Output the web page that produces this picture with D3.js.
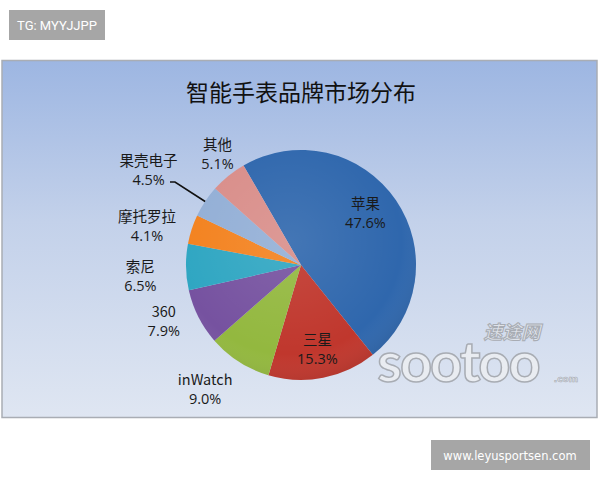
<!DOCTYPE html>
<html><head><meta charset="utf-8">
<script src="https://cdn.jsdelivr.net/npm/d3@7"></script>
<style>html,body{margin:0;padding:0;background:#fff;}svg{display:block;}</style>
</head><body>
<svg id="c" width="600" height="480"></svg>
<script>
const categories = ["苹果","三星","inWatch","360","索尼","摩托罗拉","果壳电子","其他"];
const values = [47.6,15.3,9.0,7.9,6.5,4.1,4.5,5.1];
const valueLabels = ["47.6%","15.3%","9.0%","7.9%","6.5%","4.1%","4.5%","5.1%"];
const colors = ["#2f67ad","#c0372d","#93b83f","#7652a0","#2fa6c2","#f3821f","#93afd6","#d98e8a"];
// label placement (layout, as fraction of radius)
const labelRadius = [0.72,0.74,1.36,1.29,1.40,1.38,1.56,1.21];
const labelAngleShift = [-0.08,0,0.09,0.08,-0.05,-0.07,-0.03,0.04];

const svg = d3.select("#c");
const defs = svg.append("defs");
const bg = defs.append("linearGradient").attr("id","bg").attr("x1",0).attr("y1",0).attr("x2",0).attr("y2",1);
bg.append("stop").attr("offset","0%").attr("stop-color","#9db6e2");
bg.append("stop").attr("offset","45%").attr("stop-color","#c3d1ea");
bg.append("stop").attr("offset","100%").attr("stop-color","#dfe6f2");
const shade = defs.append("radialGradient").attr("id","shade").attr("cx","45%").attr("cy","40%").attr("r","65%");
shade.append("stop").attr("offset","0%").attr("stop-color","#fff").attr("stop-opacity",0.10);
shade.append("stop").attr("offset","75%").attr("stop-color","#fff").attr("stop-opacity",0);
shade.append("stop").attr("offset","100%").attr("stop-color","#000").attr("stop-opacity",0.12);

// top-left tag
svg.append("rect").attr("x",9).attr("y",10).attr("width",96).attr("height",30).attr("fill","#a6a6a6");
svg.append("text").attr("x",57).attr("y",30).attr("text-anchor","middle").attr("fill","#fff")
  .attr("font-family","Roboto, 'Open Sans', sans-serif").attr("font-size",13).text("TG: MYYJJPP");

// panel
svg.append("rect").attr("x",2).attr("y",60.5).attr("width",595).attr("height",357).attr("fill","url(#bg)")
  .attr("stroke","#a9adb4").attr("stroke-width",1.5);

svg.append("text").attr("x",301).attr("y",101).attr("text-anchor","middle").attr("fill","#111")
  .attr("font-family","'Noto Sans CJK SC', sans-serif").attr("font-size",23).text("智能手表品牌市场分布");

const cx = 301, cy = 265, r = 115;
const g = svg.append("g").attr("transform",`translate(${cx},${cy})`);
const pie = d3.pie().sort(null).value(d=>d).startAngle(-Math.PI/6).endAngle(2*Math.PI - Math.PI/6);
const arcs = pie(values);
const arc = d3.arc().innerRadius(0).outerRadius(r);
g.selectAll("path.s").data(arcs).join("path").attr("class","s").attr("d",arc).attr("fill",(d,i)=>colors[i]);
g.append("circle").attr("r",r).attr("fill","url(#shade)");

// watermark
const wm = svg.append("g").attr("font-family","'DejaVu Sans', sans-serif");
wm.append("text").attr("x",512).attr("y",339).attr("text-anchor","middle").attr("font-size",19).attr("font-style","italic")
  .attr("font-weight","bold").attr("fill","#dfe3ea").attr("stroke","#a8acb3").attr("stroke-width",1)
  .attr("font-family","'Noto Sans CJK SC', sans-serif").text("速途网");
wm.append("text").attr("x",458).attr("y",382).attr("text-anchor","middle").attr("font-size",56)
  .attr("font-family","'Lato', sans-serif").attr("font-weight","bold").attr("letter-spacing",-2)
  .attr("fill","#e9ecf1").attr("stroke","#a8acb3").attr("stroke-width",1.5).text("sootoo");
wm.append("text").attr("x",566).attr("y",382).attr("text-anchor","middle").attr("font-size",9).attr("font-weight","bold")
  .attr("fill","#dfe3ea").attr("stroke","#a8acb3").attr("stroke-width",0.6).text(".com");

// leader line for 果壳电子
const gk = arcs[6];
const p1 = d3.arc().innerRadius(r).outerRadius(r).centroid(gk);
g.append("path").attr("d",`M${p1[0]},${p1[1]} L${-126},${-83} L${-131},${-83}`).attr("fill","none").attr("stroke","#111").attr("stroke-width",1.6);

// labels
const lab = g.selectAll("g.l").data(arcs).join("g").attr("class","l").attr("transform",(d,i)=>{
  const a = (d.startAngle+d.endAngle)/2 + labelAngleShift[i];
  const rr = r*labelRadius[i];
  return `translate(${rr*Math.sin(a)},${-rr*Math.cos(a)})`;
});
lab.append("text").attr("text-anchor","middle").attr("y",-4).attr("font-family","'Noto Sans CJK SC', sans-serif")
  .attr("font-size",14.5).attr("fill","#1a1a1a").text((d,i)=>categories[i]);
lab.append("text").attr("text-anchor","middle").attr("y",15).attr("font-family","'Open Sans', 'Noto Sans', sans-serif")
  .attr("font-size",14.5).attr("fill","#1a1a1a").text((d,i)=>valueLabels[i]);

// bottom-right tag
svg.append("rect").attr("x",431).attr("y",440).attr("width",159).attr("height",30).attr("fill","#a6a6a6");
svg.append("text").attr("x",510).attr("y",460).attr("text-anchor","middle").attr("fill","#fff")
  .attr("font-family","'DejaVu Sans', sans-serif").attr("font-size",11.5).text("www.leyusportsen.com");
</script>
</body></html>
